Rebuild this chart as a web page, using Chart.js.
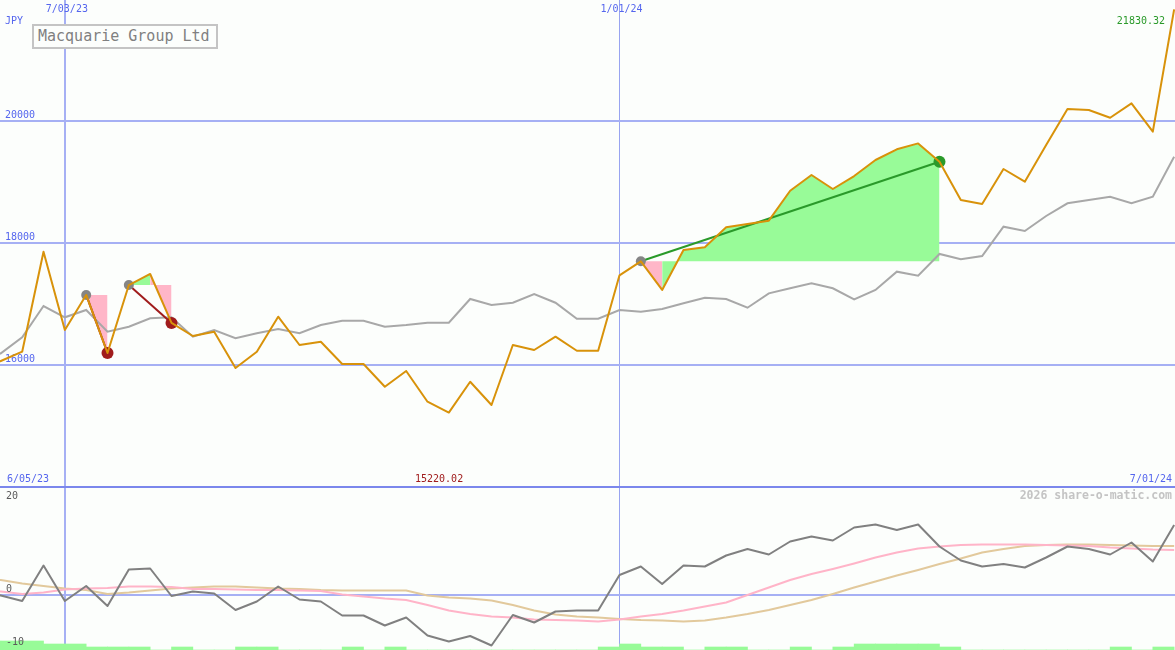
<!DOCTYPE html>
<html>
<head>
<meta charset="utf-8">
<title>Macquarie Group Ltd</title>
<script src="https://cdn.jsdelivr.net/npm/chart.js@4.4.1/dist/chart.umd.min.js"></script>
<style>
    html, body { margin: 0; padding: 0; background: #fcfefc; }
    #wrap { position: relative; width: 1175px; height: 650px; overflow: hidden; background: #fcfefc; }
    #price-chart { position: absolute; left: 0; top: 0; }
    #sep { position: absolute; left: 0; top: 486px; width: 1175px; height: 2px; background: #7b87ec; }
    #osc-chart { position: absolute; left: 0; top: 488px; }
    #title {
        position: absolute; left: 32px; top: 24px; width: 178px; height: 21px;
        padding-left: 4px; border: 2px solid #c4c4c4; background: #fcfefc;
        color: #808080; font: 15px 'DejaVu Sans Mono', monospace; line-height: 21px;
    }
</style>
</head>
<body>
<div id="wrap">
    <canvas id="price-chart" width="1175" height="486"></canvas>
    <div id="sep"></div>
    <canvas id="osc-chart" width="1175" height="162"></canvas>
    <div id="title">Macquarie Group Ltd</div>
</div>
<script>
/* ---- data (weekly, m/dd/yy) ---- */
const weeks = [
    '6/05/23', '6/12/23', '6/19/23', '6/26/23',
    '7/03/23', '7/10/23', '7/17/23', '7/24/23', '7/31/23',
    '8/07/23', '8/14/23', '8/21/23', '8/28/23',
    '9/04/23', '9/11/23', '9/18/23', '9/25/23',
    '10/02/23', '10/09/23', '10/16/23', '10/23/23', '10/30/23',
    '11/06/23', '11/13/23', '11/20/23', '11/27/23',
    '12/04/23', '12/11/23', '12/18/23', '12/25/23',
    '1/01/24', '1/08/24', '1/15/24', '1/22/24', '1/29/24',
    '2/05/24', '2/12/24', '2/19/24', '2/26/24',
    '3/04/24', '3/11/24', '3/18/24', '3/25/24',
    '4/01/24', '4/08/24', '4/15/24', '4/22/24', '4/29/24',
    '5/06/24', '5/13/24', '5/20/24', '5/27/24',
    '6/03/24', '6/10/24', '6/17/24', '6/24/24',
    '7/01/24'
];
const markedWeeks = ['7/03/23', '1/01/24'];

const closes = [
    15900, 16066, 16218, 17857, 16574, 17148, 16197, 17311, 17492, 16689,
    16475, 16546, 15951, 16218, 16792, 16328, 16382, 16016, 16016, 15644,
    15902, 15398, 15220.02, 15726, 15344, 16328, 16246, 16464, 16234, 16234,
    17470, 17700, 17230, 17885, 17929, 18257, 18311, 18366, 18857, 19115,
    18885, 19098, 19361, 19536, 19633, 19333, 18705, 18639, 19213, 19005,
    19607, 20197, 20180, 20054, 20290, 19825, 21830.32
];
const average = [
    16050, 16192, 16454, 16967, 16782, 16902, 16546, 16628, 16766, 16782,
    16464, 16574, 16438, 16520, 16590, 16520, 16656, 16726, 16726, 16628,
    16656, 16693, 16693, 17082, 16984, 17021, 17164, 17021, 16759, 16759,
    16902, 16874, 16918, 17011, 17103, 17082, 16939, 17175, 17257, 17339,
    17257, 17077, 17230, 17530, 17464, 17820, 17733, 17787, 18267, 18197,
    18443, 18651, 18705, 18759, 18651, 18759, 19415
];
const priceTicks = [16000, 18000, 20000];

// trades: entry week index -> exit week index
const tradeFrom = [5, 7, 31];
const tradeTo = [6, 9, 45];

const momentum = [
    0.5, -0.1, -1.2, 5.9, -1.2, 1.8, -2.2, 5.1, 5.3, -0.2,
    0.7, 0.3, -3.0, -1.3, 1.7, -0.9, -1.3, -4.1, -4.1, -6.1,
    -4.5, -8.1, -9.3, -8.2, -10.1, -4.0, -5.5, -3.3, -3.1, -3.1,
    4.0, 5.7, 2.2, 5.9, 5.7, 7.9, 9.2, 8.1, 10.7, 11.7,
    10.9, 13.5, 14.1, 13.0, 14.1, 9.7, 6.9, 5.7, 6.2, 5.5,
    7.5, 9.7, 9.2, 8.1, 10.5, 6.7, 14.0
];
const fastLine = [
    1.0, 0.7, 0.2, 0.5, 1.1, 1.3, 1.4, 1.7, 1.7, 1.6,
    1.2, 1.2, 1.1, 1.0, 1.0, 0.9, 0.8, 0.1, -0.3, -0.7,
    -1.0, -2.0, -3.1, -3.8, -4.3, -4.5, -4.9, -5.0, -5.1, -5.3,
    -4.9, -4.3, -3.8, -3.1, -2.3, -1.5, 0.0, 1.5, 3.0, 4.2,
    5.2, 6.3, 7.5, 8.5, 9.3, 9.7, 10.0, 10.1, 10.1, 10.1,
    10.0, 9.9, 9.8, 9.5, 9.3, 9.1, 9.0
];
const slowLine = [
    3.4, 3.0, 2.3, 1.8, 1.3, 1.0, 0.2, 0.5, 0.9, 1.3,
    1.5, 1.7, 1.7, 1.5, 1.3, 1.2, 1.0, 0.9, 0.9, 0.9,
    0.9, -0.1, -0.5, -0.7, -1.1, -2.0, -3.1, -3.9, -4.3, -4.5,
    -4.8, -5.0, -5.1, -5.3, -5.1, -4.5, -3.8, -3.0, -2.0, -1.0,
    0.2, 1.5, 2.7, 3.9, 5.0, 6.2, 7.3, 8.5, 9.2, 9.8,
    10.0, 10.1, 10.1, 10.0, 9.9, 9.8, 9.8
];
// one bar per week interval
const barHeights = [
    1.8, 1.8, 1.8, 1.2, 1.2, 0.6, 0.6, 0.6, 0, 0.6,
    0, 0, 0.6, 0.6, 0, 0, 0, 0.6, 0, 0.6,
    0, 0, 0, 0, 0, 0, 0, 0, 0, 0.6,
    1.2, 0.6, 0.6, 0, 0.6, 0.6, 0, 0, 0.6, 0,
    0.6, 1.2, 1.2, 1.2, 1.2, 0.6, 0, 0, 0, 0,
    0, 0, 0, 0.6, 0, 0.6
];
const oscLabels = [20, 0, -10];

/* ---- style ---- */
const BLUE = '#5566ee';
const GRID = '#a6b0f4';
const ORANGE = '#d8920a';
const GREEN_FILL = '#98fb98';
const PINK_FILL = '#ffb6c8';
const WIN = '#2a9a2a';
const LOSS = '#a01c1c';
const MONO = "'DejaVu Sans Mono', monospace";
const X_MIN = 0.96, X_MAX = 56.04;

const pts = arr => arr.map((v, i) => ({ x: i, y: v }));
const blank = 'rgba(0,0,0,0)';

// no padding, no reserved space: chart area = whole canvas
const flatAxis = s => { s.width = 0; s.paddingTop = 0; s.paddingBottom = 0; };

const xAxis = () => ({
    type: 'linear', min: X_MIN, max: X_MAX, offset: false,
    afterBuildTicks: s => { s.ticks = markedWeeks.map(w => ({ value: weeks.indexOf(w) })); },
    ticks: { display: false },
    grid: {
        color: c => (c.tick && c.tick.value === 30 ? '#98a4f0' : GRID),
        lineWidth: c => (c.tick && c.tick.value === 30 ? 1 : 2),
        drawTicks: false, offset: false
    },
    border: { display: false }
});

/* ---- price panel ---- */
const priceSets = [];
tradeFrom.forEach((a, t) => {
    const b = tradeTo[t];
    const base = closes[a];
    const span = closes.slice(a, b + 1).map((v, k) => ({ x: a + k, y: v }));
    priceSets.push({
        data: span.map(p => ({ x: p.x, y: base })),
        borderWidth: 0, borderColor: blank, pointRadius: 0, fill: false, order: 30
    });
    priceSets.push({
        data: span,
        borderWidth: 0, borderColor: blank, pointRadius: 0,
        backgroundColor: PINK_FILL,
        fill: { target: priceSets.length - 1 },
        segment: { backgroundColor: c => (c.p1.parsed.y >= base ? GREEN_FILL : PINK_FILL) },
        order: 20
    });
});
priceSets.push({ data: pts(average), borderColor: '#a8a8a8', borderWidth: 2, pointRadius: 0, order: 8 });
tradeFrom.forEach((a, t) => {
    const b = tradeTo[t];
    priceSets.push({
        data: [{ x: a, y: closes[a] }, { x: b, y: closes[b] }],
        borderColor: closes[b] >= closes[a] ? WIN : LOSS, borderWidth: 2, pointRadius: 0, order: 4
    });
});
priceSets.push({
    data: tradeFrom.map(a => ({ x: a, y: closes[a] })),
    showLine: false, pointRadius: 5, pointBorderWidth: 0, pointBackgroundColor: '#858585', order: 3
});
priceSets.push({
    data: tradeTo.map(b => ({ x: b, y: closes[b] })),
    showLine: false, pointRadius: 6, pointBorderWidth: 0,
    pointBackgroundColor: tradeTo.map((b, t) => (closes[b] >= closes[tradeFrom[t]] ? WIN : LOSS)),
    order: 2
});
priceSets.push({ data: pts(closes), borderColor: ORANGE, borderWidth: 2, pointRadius: 0, borderJoinStyle: 'round', order: 1 });

const priceText = {
    id: 'priceText',
    afterDraw(chart) {
        const { ctx, scales: { x } } = chart;
        const hi = Math.max(...closes), lo = Math.min(...closes);
        ctx.save();
        ctx.font = '10px ' + MONO;
        ctx.textBaseline = 'middle';
        ctx.fillStyle = BLUE;
        ctx.textAlign = 'center';
        markedWeeks.forEach(w => ctx.fillText(w, x.getPixelForValue(weeks.indexOf(w)) + 2, 9));
        ctx.textAlign = 'left';
        ctx.fillText('JPY', 5, 21);
        ctx.fillText(weeks[0], 7, 479);
        ctx.textAlign = 'right';
        ctx.fillText(weeks[weeks.length - 1], 1172, 479);
        ctx.fillStyle = WIN;
        ctx.fillText(hi.toFixed(2), 1165, 21);
        ctx.textAlign = 'left';
        ctx.fillStyle = LOSS;
        ctx.fillText(lo.toFixed(2), 415, 479);
        ctx.restore();
    }
};

new Chart(document.getElementById('price-chart'), {
    type: 'line',
    data: { datasets: priceSets },
    options: {
        responsive: false, animation: false, devicePixelRatio: 1, events: [],
        layout: { padding: 0, autoPadding: false },
        plugins: { legend: { display: false }, tooltip: { enabled: false } },
        scales: {
            x: { ...xAxis(), afterFit: s => { s.height = 0; s.paddingLeft = 0; s.paddingRight = 0; } },
            y: {
                min: 14016, max: 21984,
                afterBuildTicks: s => { s.ticks = priceTicks.map(v => ({ value: v })); },
                afterFit: flatAxis,
                ticks: { mirror: true, padding: 5, labelOffset: -6, color: BLUE, font: { family: MONO, size: 10 }, callback: v => String(v) },
                grid: { color: GRID, lineWidth: 2, drawTicks: false },
                border: { display: false }
            }
        }
    },
    plugins: [priceText]
});

/* ---- oscillator panel ---- */
const OSC_MIN = -11;
const oscText = {
    id: 'oscText',
    afterDraw(chart) {
        const { ctx, scales: { y } } = chart;
        const nudge = [1, -6, -3];
        ctx.save();
        ctx.textBaseline = 'middle';
        ctx.font = '10px ' + MONO;
        ctx.fillStyle = '#5a5a5a';
        ctx.textAlign = 'left';
        oscLabels.forEach((v, i) => ctx.fillText(String(v), 6, y.getPixelForValue(v) + nudge[i]));
        ctx.font = 'bold 11.5px ' + MONO;
        ctx.fillStyle = '#c4c4c4';
        ctx.textAlign = 'right';
        ctx.fillText('2026 share-o-matic.com', 1172, 8);
        ctx.restore();
    }
};

new Chart(document.getElementById('osc-chart'), {
    type: 'line',
    data: {
        datasets: [
            { type: 'bar', data: barHeights.map((h, k) => ({ x: k + 0.5, y: [OSC_MIN, OSC_MIN + h] })),
              backgroundColor: GREEN_FILL, borderWidth: 0, barPercentage: 1, categoryPercentage: 1, order: 20 },
            { data: pts(slowLine), borderColor: '#e2c99c', borderWidth: 2, pointRadius: 0, order: 8 },
            { data: pts(fastLine), borderColor: '#ffb4c8', borderWidth: 2, pointRadius: 0, order: 7 },
            { data: pts(momentum), borderColor: '#808080', borderWidth: 2, pointRadius: 0, borderJoinStyle: 'round', order: 5 }
        ]
    },
    options: {
        responsive: false, animation: false, devicePixelRatio: 1, events: [],
        layout: { padding: 0, autoPadding: false },
        plugins: { legend: { display: false }, tooltip: { enabled: false } },
        scales: {
            x: xAxis(),
            y: {
                min: OSC_MIN, max: 21.4,
                afterBuildTicks: s => { s.ticks = [{ value: 0 }]; },
                afterFit: flatAxis,
                ticks: { display: false },
                grid: { color: GRID, lineWidth: 2, drawTicks: false },
                border: { display: false }
            }
        }
    },
    plugins: [oscText]
});
</script>
</body>
</html>
